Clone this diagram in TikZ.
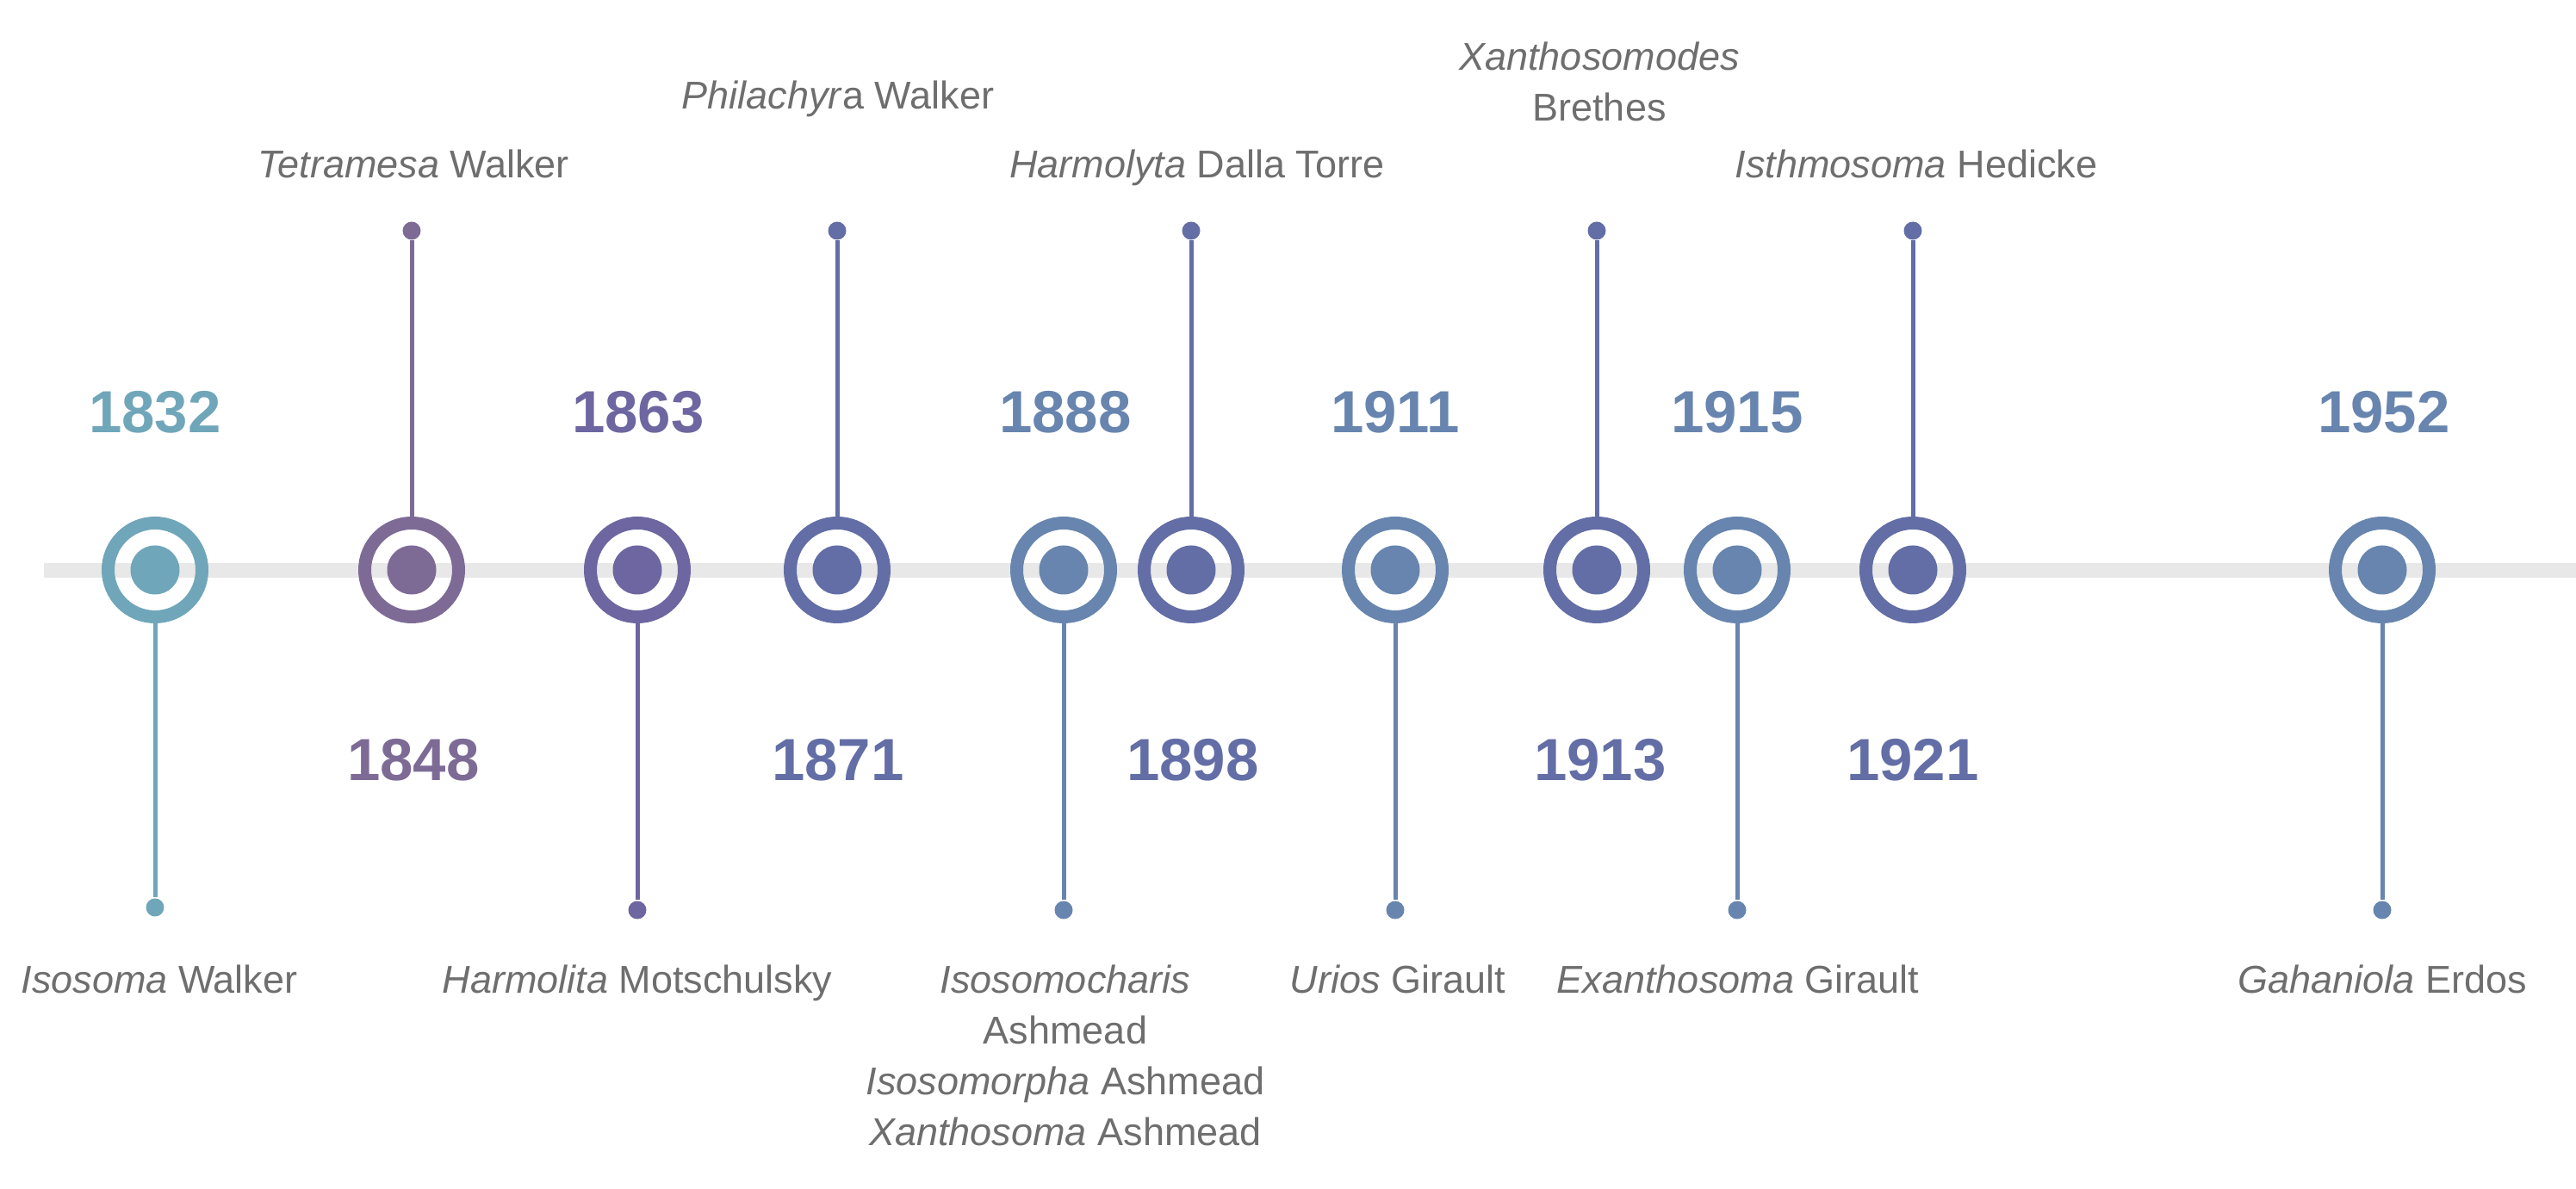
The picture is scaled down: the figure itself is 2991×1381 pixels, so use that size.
\documentclass[tikz,border=0pt]{standalone}
\usepackage{fontspec}
\setmainfont{Liberation Sans}
\definecolor{cteal}{HTML}{70A6B9}
\definecolor{cplum}{HTML}{7D6B96}
\definecolor{cviol}{HTML}{6D66A0}
\definecolor{cindi}{HTML}{636EA6}
\definecolor{csteel}{HTML}{6785AE}
\definecolor{txtgray}{HTML}{6E6E6E}
\definecolor{axisgray}{HTML}{E8E8E8}
\begin{document}
\begin{tikzpicture}[x=0.2pt,y=-0.2pt,
  ring/.style={circle,draw=#1,line width=3pt,minimum size=21.8pt,inner sep=0pt},
  core/.style={circle,fill=#1,minimum size=11.4pt,inner sep=0pt},
  tip/.style={circle,fill=#1,minimum size=4.2pt,inner sep=0pt},
  stem/.style={draw=#1,line width=1pt},
  yearlbl/.style={text=#1,font=\fontsize{13.8}{16}\selectfont\bfseries,anchor=base,inner sep=0pt},
  taxon/.style={text=txtgray,font=\fontsize{9}{11.8}\selectfont,align=center,anchor=base,inner sep=0pt},
  axisline/.style={draw=axisgray,line width=3.4pt}]
\useasboundingbox (0,0) rectangle (2991,1381);
\coordinate (axL) at (51,663);
\coordinate (axR) at (2991,663);
\draw[axisline] (axL) -- (axR);

% 1832
\node[ring=cteal] (r1) at (180,662) {};
\node[core=cteal] (d1) at (180,662) {};
\node[tip=cteal] (t1) at (180,1054) {};
\draw[stem=cteal] (r1) -- (t1);
\node[yearlbl=cteal] (y1) at (180,503) {1832};
\node[taxon] (l1) at (185,1154) {\textit{Isosoma} Walker};

% 1848
\node[ring=cplum] (r2) at (478,662) {};
\node[core=cplum] (d2) at (478,662) {};
\node[tip=cplum] (t2) at (478,268) {};
\draw[stem=cplum] (r2) -- (t2);
\node[yearlbl=cplum] (y2) at (480,907) {1848};
\node[taxon] (l2) at (480,207) {\textit{Tetramesa} Walker};

% 1863
\node[ring=cviol] (r3) at (740,662) {};
\node[core=cviol] (d3) at (740,662) {};
\node[tip=cviol] (t3) at (740,1057) {};
\draw[stem=cviol] (r3) -- (t3);
\node[yearlbl=cviol] (y3) at (741,503) {1863};
\node[taxon] (l3) at (740,1154) {\textit{Harmolita} Motschulsky};

% 1871
\node[ring=cindi] (r4) at (972,662) {};
\node[core=cindi] (d4) at (972,662) {};
\node[tip=cindi] (t4) at (972,268) {};
\draw[stem=cindi] (r4) -- (t4);
\node[yearlbl=cindi] (y4) at (973,907) {1871};
\node[taxon] (l4) at (973,127) {\textit{Philachyr}a Walker};

% 1888
\node[ring=csteel] (r5) at (1235,662) {};
\node[core=csteel] (d5) at (1235,662) {};
\node[tip=csteel] (t5) at (1235,1057) {};
\draw[stem=csteel] (r5) -- (t5);
\node[yearlbl=csteel] (y5) at (1237,503) {1888};
\node[taxon] (l5) at (1237,1331) {\textit{Isosomocharis}\\Ashmead\\\textit{Isosomorpha} Ashmead\\\textit{Xanthosoma} Ashmead};

% 1898
\node[ring=cindi] (r6) at (1383,662) {};
\node[core=cindi] (d6) at (1383,662) {};
\node[tip=cindi] (t6) at (1383,268) {};
\draw[stem=cindi] (r6) -- (t6);
\node[yearlbl=cindi] (y6) at (1385,907) {1898};
\node[taxon] (l6) at (1390,207) {\textit{Harmolyta} Dalla Torre};

% 1911
\node[ring=csteel] (r7) at (1620,662) {};
\node[core=csteel] (d7) at (1620,662) {};
\node[tip=csteel] (t7) at (1620,1057) {};
\draw[stem=csteel] (r7) -- (t7);
\node[yearlbl=csteel] (y7) at (1620,503) {1911};
\node[taxon] (l7) at (1623,1154) {\textit{Urios} Girault};

% 1913
\node[ring=cindi] (r8) at (1854,662) {};
\node[core=cindi] (d8) at (1854,662) {};
\node[tip=cindi] (t8) at (1854,268) {};
\draw[stem=cindi] (r8) -- (t8);
\node[yearlbl=cindi] (y8) at (1858,907) {1913};
\node[taxon] (l8) at (1857,141) {\textit{Xanthosomodes}\\Brethes};

% 1915
\node[ring=csteel] (r9) at (2017,662) {};
\node[core=csteel] (d9) at (2017,662) {};
\node[tip=csteel] (t9) at (2017,1057) {};
\draw[stem=csteel] (r9) -- (t9);
\node[yearlbl=csteel] (y9) at (2017,503) {1915};
\node[taxon] (l9) at (2018,1154) {\textit{Exanthosoma} Girault};

% 1921
\node[ring=cindi] (r10) at (2221,662) {};
\node[core=cindi] (d10) at (2221,662) {};
\node[tip=cindi] (t10) at (2221,268) {};
\draw[stem=cindi] (r10) -- (t10);
\node[yearlbl=cindi] (y10) at (2221,907) {1921};
\node[taxon] (l10) at (2225,207) {\textit{Isthmosoma} Hedicke};

% 1952
\node[ring=csteel] (r11) at (2766,662) {};
\node[core=csteel] (d11) at (2766,662) {};
\node[tip=csteel] (t11) at (2766,1057) {};
\draw[stem=csteel] (r11) -- (t11);
\node[yearlbl=csteel] (y11) at (2768,503) {1952};
\node[taxon] (l11) at (2766,1154) {\textit{Gahaniola} Erdos};
\end{tikzpicture}
\end{document}
